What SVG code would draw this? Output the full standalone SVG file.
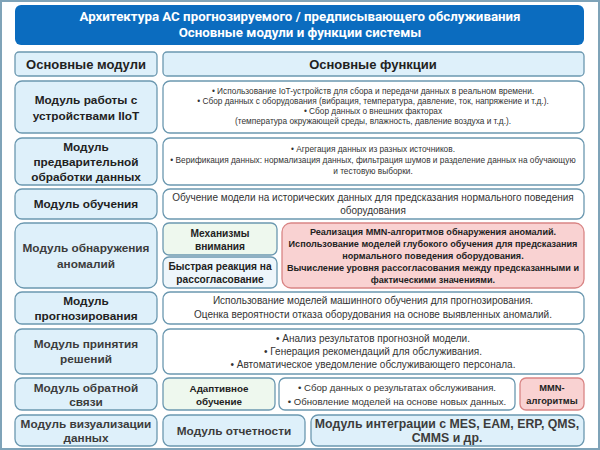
<svg xmlns="http://www.w3.org/2000/svg" width="600" height="450" viewBox="0 0 600 450">
<style>
.frame{fill:#fff;stroke:#7fa3b8;stroke-width:2}
.mod{fill:#def0fa;stroke:#6b98b0;stroke-width:1.3}
.fn{fill:#fff;stroke:#6b98b0;stroke-width:1.3}
.grn{fill:#eef8ee;stroke:#6b98b0;stroke-width:1.3}
.lb{fill:#eef6fb;stroke:#6b98b0;stroke-width:1.3}
.red{fill:#f9d2d2;stroke:#d98585;stroke-width:1.3}
text{font-family:"Liberation Sans",Arial,sans-serif;fill:#222;text-anchor:middle}
.t{font-family:Roboto,"Liberation Sans",sans-serif;font-weight:bold;fill:#fff;font-size:13.3px}
.h{font-weight:bold;font-size:13px}
.m{font-weight:bold;font-size:11.8px}
.g{fill:#3c3c3c}
.s{font-size:8.3px;fill:#333}
.n{font-size:10px;fill:#333}
.b{font-weight:bold;font-size:9.1px}
.k{font-weight:bold;font-size:10.2px}
</style>
<rect class="frame" x="1" y="1" width="598" height="448"/>
<g id="title">
<rect x="15" y="5" width="569" height="40" rx="6" fill="#0b6cbf"/>
<text class="t" x="300" y="21">Архитектура АС прогнозируемого / предписывающего обслуживания</text>
<text class="t" x="300" y="37">Основные модули и функции системы</text>
</g>
<g id="hdr-modules"><rect class="mod" x="15" y="52" width="142" height="24" rx="4"/><text class="h" x="86" y="69">Основные модули</text></g>
<g id="hdr-functions"><rect class="mod" x="163" y="52" width="421" height="24" rx="4"/><text class="h" x="373" y="69">Основные функции</text></g>

<g id="m-iiot"><rect class="mod" x="15" y="81" width="142" height="52" rx="7"/><text class="m" x="86" y="104">Модуль работы с</text><text class="m" x="86" y="120">устройствами IIoT</text></g>
<g id="f-iiot"><rect class="fn" x="163" y="81" width="421" height="52" rx="7"/>
<text class="s" x="373" y="94">•  Использование IoT-устройств для сбора и передачи данных в реальном времени.</text>
<text class="s" x="373" y="104">•  Сбор данных с оборудования (вибрация, температура, давление, ток, напряжение и т.д.).</text>
<text class="s" x="373" y="114">•  Сбор данных о внешних факторах</text>
<text class="s" x="373" y="124">(температура окружающей среды, влажность, давление воздуха и т.д.).</text></g>

<g id="m-prep"><rect class="mod" x="15" y="138" width="142" height="47" rx="7"/><text class="m" x="86" y="151">Модуль</text><text class="m" x="86" y="166">предварительной</text><text class="m" x="86" y="181">обработки данных</text></g>
<g id="f-prep"><rect class="fn" x="163" y="138" width="421" height="47" rx="7"/>
<text class="s" x="373" y="152">•  Агрегация данных из разных источников.</text>
<text class="s" x="373" y="163">•  Верификация данных: нормализация данных, фильтрация шумов и разделение данных на обучающую</text>
<text class="s" x="373" y="174">и тестовую выборки.</text></g>

<g id="m-train"><rect class="mod" x="15" y="189" width="142" height="30" rx="7"/><text class="m" x="86" y="208">Модуль обучения</text></g>
<g id="f-train"><rect class="fn" x="163" y="189" width="421" height="30" rx="7"/>
<text class="n" x="373" y="201">Обучение модели на исторических данных для предсказания нормального поведения</text>
<text class="n" x="373" y="214">оборудования</text></g>

<g id="m-anom"><rect class="mod" x="15" y="223" width="142" height="65" rx="9"/><text class="m g" x="86" y="252">Модуль обнаружения</text><text class="m g" x="86" y="268">аномалий</text></g>
<g id="att"><rect class="grn" x="163" y="223" width="114" height="32" rx="6"/><text class="k" x="220" y="237">Механизмы</text><text class="k" x="220" y="250">внимания</text></g>
<g id="fast"><rect class="lb" x="163" y="257" width="114" height="31" rx="6"/><text class="k" x="220" y="270">Быстрая реакция на</text><text class="k" x="220" y="283">рассогласование</text></g>
<g id="mmn-impl"><rect class="red" x="282" y="223" width="302" height="65" rx="9"/>
<text class="b" x="433" y="235">Реализация MMN-алгоритмов обнаружения аномалий.</text>
<text class="b" x="433" y="247">Использование моделей глубокого обучения для предсказания</text>
<text class="b" x="433" y="259">нормального поведения оборудования.</text>
<text class="b" x="433" y="271">Вычисление уровня рассогласования между предсказанными и</text>
<text class="b" x="433" y="283">фактическими значениями.</text></g>

<g id="m-fore"><rect class="mod" x="15" y="292" width="142" height="32" rx="7"/><text class="m" x="86" y="305">Модуль</text><text class="m" x="86" y="320">прогнозирования</text></g>
<g id="f-fore"><rect class="fn" x="163" y="292" width="421" height="32" rx="7"/>
<text class="n" x="373" y="304">Использование моделей машинного обучения для прогнозирования.</text>
<text class="n" x="373" y="318">Оценка вероятности отказа оборудования на основе выявленных аномалий.</text></g>

<g id="m-dec"><rect class="mod" x="15" y="329" width="142" height="45" rx="7"/><text class="m g" x="86" y="348">Модуль принятия</text><text class="m g" x="86" y="363">решений</text></g>
<g id="f-dec"><rect class="fn" x="163" y="329" width="421" height="45" rx="7"/>
<text class="n" x="373" y="342">•  Анализ результатов прогнозной модели.</text>
<text class="n" x="373" y="355">•  Генерация рекомендаций для обслуживания.</text>
<text class="n" x="373" y="368">•  Автоматическое уведомление обслуживающего персонала.</text></g>

<g id="m-fb"><rect class="mod" x="15" y="378" width="142" height="32" rx="7"/><text class="m g" x="86" y="392">Модуль обратной</text><text class="m g" x="86" y="406">связи</text></g>
<g id="adapt"><rect class="grn" x="163" y="378" width="112" height="32" rx="6"/><text class="b" x="219" y="392" style="font-size:9.8px">Адаптивное</text><text class="b" x="219" y="405" style="font-size:9.8px">обучение</text></g>
<g id="f-fb"><rect class="fn" x="279" y="378" width="236" height="32" rx="6"/>
<text class="n" x="397" y="391" style="font-size:9.6px">•  Сбор данных о результатах обслуживания.</text>
<text class="n" x="397" y="405" style="font-size:9.6px">•  Обновление моделей на основе новых данных.</text></g>
<g id="mmn"><rect class="red" x="520" y="378" width="64" height="32" rx="6"/><text class="b" x="552" y="391" style="font-size:9.3px">MMN-</text><text class="b" x="552" y="404" style="font-size:9.3px">алгоритмы</text></g>

<g id="m-vis"><rect class="mod" x="15" y="415" width="142" height="31" rx="7"/><text class="m g" x="86" y="428">Модуль визуализации</text><text class="m g" x="86" y="442">данных</text></g>
<g id="m-rep"><rect class="mod" x="163" y="415" width="142" height="31" rx="7"/><text class="m g" x="234" y="435">Модуль отчетности</text></g>
<g id="m-int"><rect class="mod" x="311" y="415" width="273" height="31" rx="7"/><text class="m g" x="447" y="428" style="font-size:12.3px">Модуль интеграции с MES, EAM, ERP, QMS,</text><text class="m g" x="447" y="442" style="font-size:12.3px">CMMS и др.</text></g>
</svg>
